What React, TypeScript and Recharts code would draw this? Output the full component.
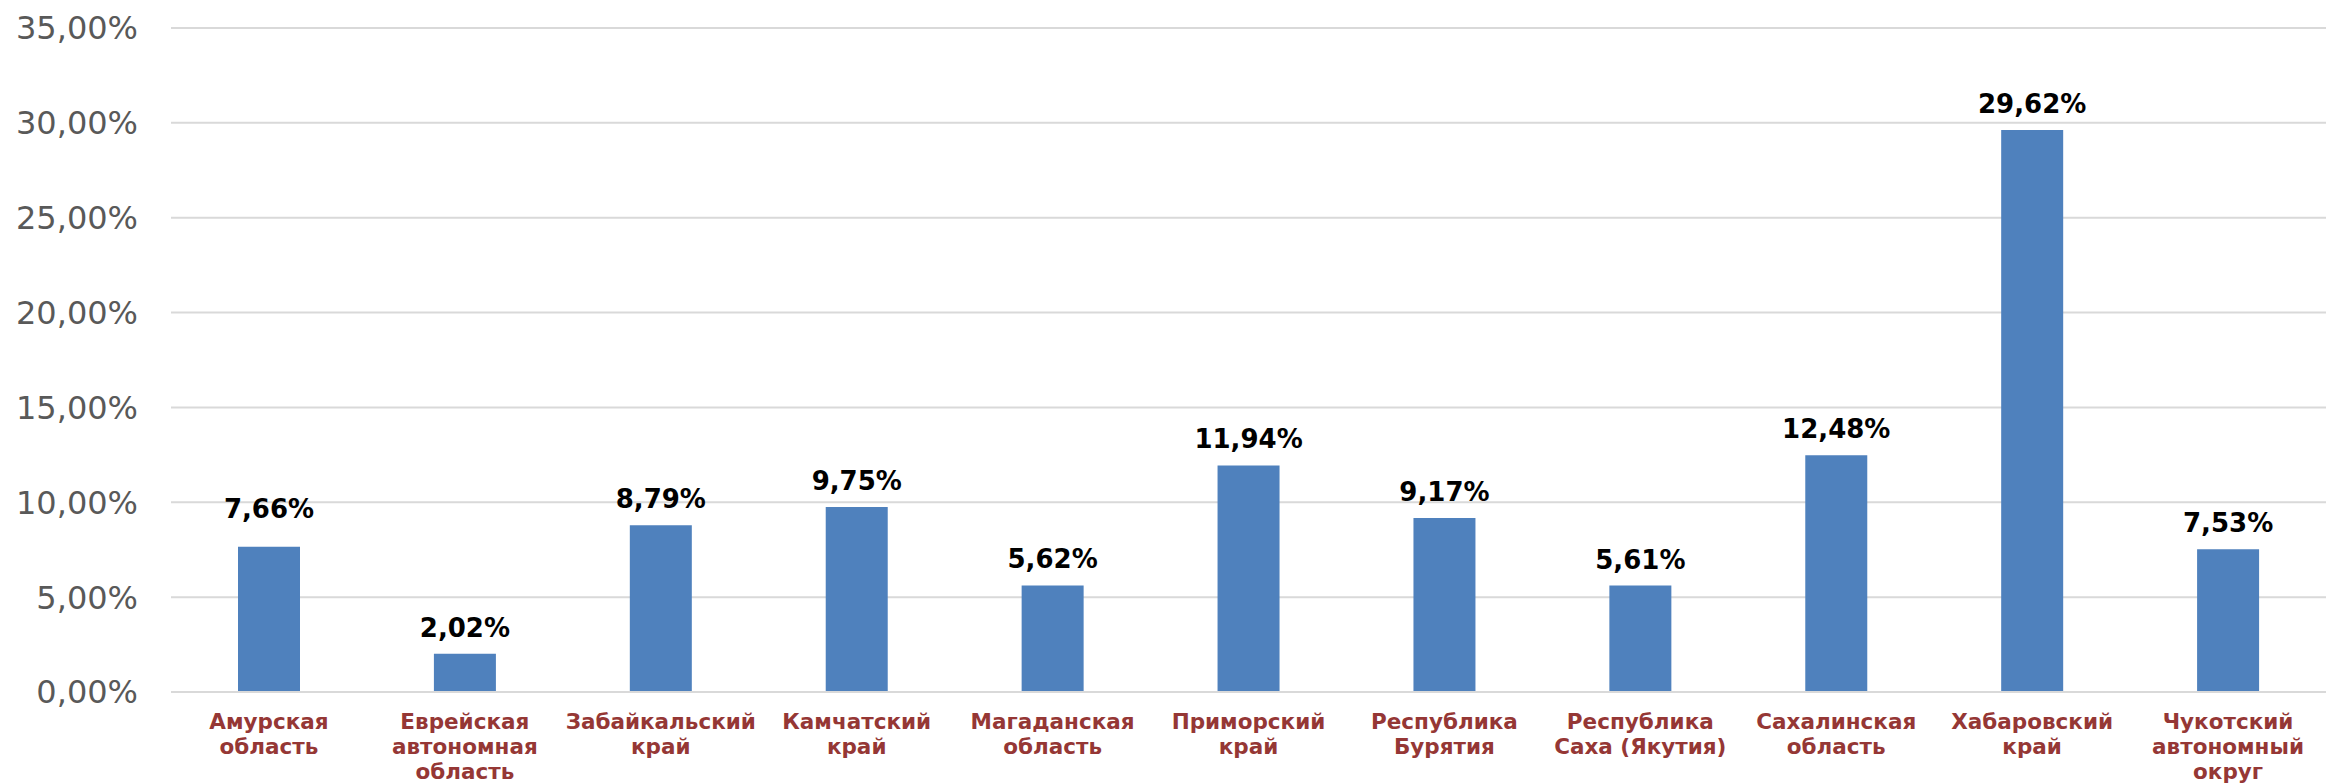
import React from 'react'
import {Bar, BarChart, CartesianGrid, LabelList, XAxis, YAxis} from 'recharts'

const regions = [
  'Амурская\nобласть',
  'Еврейская\nавтономная\nобласть',
  'Забайкальский\nкрай',
  'Камчатский\nкрай',
  'Магаданская\nобласть',
  'Приморский\nкрай',
  'Республика\nБурятия',
  'Республика\nСаха (Якутия)',
  'Сахалинская\nобласть',
  'Хабаровский\nкрай',
  'Чукотский\nавтономный\nокруг',
]
const shares = [7.66, 2.02, 8.79, 9.75, 5.62, 11.94, 9.17, 5.61, 12.48, 29.62, 7.53]
const yTicks = [0, 5, 10, 15, 20, 25, 30, 35]

const data = regions.map((region, i) => ({region, share: shares[i]}))

const font = 'DejaVu Sans, Verdana, sans-serif'
const pct = (v: number) => `${v.toFixed(2).replace('.', ',')}%`

// the first label sits a bit higher in the original
const extraLift: Record<number, number> = {0: 12}

function RegionTick({x, y, payload}: any) {
  const lines = String(payload.value).split('\n')
  return (
    <text x={x} y={y} textAnchor="middle" fill="#953735" fontFamily={font} fontSize={21.5} fontWeight="bold">
      {lines.map((line, i) => (
        <tspan key={i} x={x} dy={i === 0 ? 29 : 25}>
          {line}
        </tspan>
      ))}
    </text>
  )
}

function ValueLabel({x, y, width, value, index}: any) {
  return (
    <text
      x={x + width / 2}
      y={y - 17 - (extraLift[index] ?? 0)}
      textAnchor="middle"
      fill="#000"
      fontFamily={font}
      fontSize={26}
      fontWeight="bold"
    >
      {pct(Number(value))}
    </text>
  )
}

export default function App() {
  return (
    <div style={{position: 'absolute', left: 0, top: 0, background: '#fff'}}>
      <BarChart width={2326} height={783} data={data} margin={{top: 28, right: 0, bottom: 0, left: 0}}>
        <CartesianGrid stroke="#d9d9d9" strokeWidth={2} vertical={false} />
        <XAxis
          dataKey="region"
          interval={0}
          height={91}
          axisLine={{stroke: '#d9d9d9', strokeWidth: 2}}
          tickLine={false}
          tick={<RegionTick />}
        />
        <YAxis
          width={171}
          domain={[0, 35]}
          ticks={yTicks}
          axisLine={false}
          tickLine={false}
          tickSize={0}
          tickMargin={33}
          tickFormatter={pct}
          tick={{fill: '#595959', fontSize: 32, fontFamily: font}}
        />
        <Bar dataKey="share" fill="#4f81bd" barSize={62} isAnimationActive={false}>
          <LabelList dataKey="share" content={<ValueLabel />} />
        </Bar>
      </BarChart>
    </div>
  )
}
